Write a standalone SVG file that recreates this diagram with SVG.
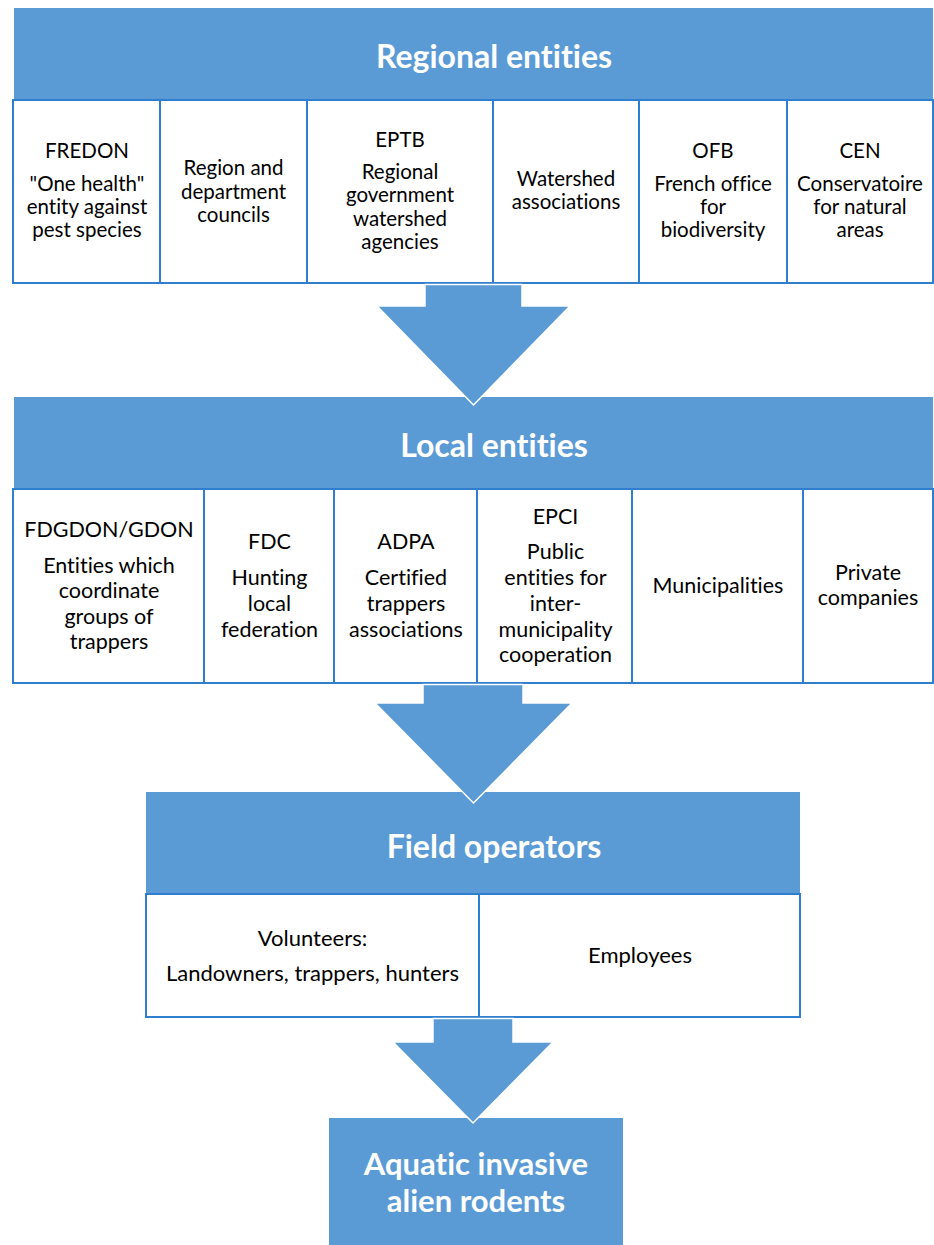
<svg xmlns="http://www.w3.org/2000/svg" width="934" height="1245" viewBox="0 0 934 1245">
<style>
text{font-variant-ligatures:none}
.hdr{fill:#5B9BD5}
.cell{fill:#fff;stroke:#2F7ECF;stroke-width:2}
.ht{font-family:Lato,"Liberation Sans",sans-serif;font-weight:bold;font-size:32px;fill:#fff;text-anchor:middle}
.ht2{font-family:Lato,"Liberation Sans",sans-serif;font-weight:bold;font-size:31px;fill:#fff;text-anchor:middle}
.t1{font-family:Lato,"Liberation Sans",sans-serif;font-size:20.5px;fill:#000;text-anchor:middle}
.t2{font-family:Lato,"Liberation Sans",sans-serif;font-size:21.5px;fill:#000;text-anchor:middle}
.t3{font-family:Lato,"Liberation Sans",sans-serif;font-size:22px;fill:#000;text-anchor:middle}
.arr{fill:#5B9BD5;stroke:#fff;stroke-width:1.5;stroke-linejoin:miter}
</style>
<rect width="934" height="1245" fill="#fff"/>

<g id="regional-entities">
<rect class="hdr" x="14" y="8" width="919" height="92"/>
<text class="ht" x="494" y="68">Regional entities</text>
</g>
<g id="fredon">
<rect class="cell" x="13" y="100" width="147" height="183"/>
<text class="t1"><tspan x="87" y="158">FREDON</tspan><tspan x="87" y="191">"One health"</tspan><tspan x="87" y="214">entity against</tspan><tspan x="87" y="237">pest species</tspan></text>
</g>
<g id="region-councils">
<rect class="cell" x="160" y="100" width="147" height="183"/>
<text class="t1"><tspan x="233.5" y="175">Region and</tspan><tspan x="233.5" y="199">department</tspan><tspan x="233.5" y="222">councils</tspan></text>
</g>
<g id="eptb">
<rect class="cell" x="307" y="100" width="186" height="183"/>
<text class="t1"><tspan x="400" y="147">EPTB</tspan><tspan x="400" y="179">Regional</tspan><tspan x="400" y="202">government</tspan><tspan x="400" y="226">watershed</tspan><tspan x="400" y="249">agencies</tspan></text>
</g>
<g id="watershed-associations">
<rect class="cell" x="493" y="100" width="146" height="183"/>
<text class="t1"><tspan x="566" y="186">Watershed</tspan><tspan x="566" y="209">associations</tspan></text>
</g>
<g id="ofb">
<rect class="cell" x="639" y="100" width="148" height="183"/>
<text class="t1"><tspan x="713" y="158">OFB</tspan><tspan x="713" y="191">French office</tspan><tspan x="713" y="214">for</tspan><tspan x="713" y="237">biodiversity</tspan></text>
</g>
<g id="cen">
<rect class="cell" x="787" y="100" width="146" height="183"/>
<text class="t1"><tspan x="860" y="158">CEN</tspan><tspan x="860" y="191">Conservatoire</tspan><tspan x="860" y="214">for natural</tspan><tspan x="860" y="237">areas</tspan></text>
</g>

<g id="local-entities">
<rect class="hdr" x="14" y="397" width="919" height="92"/>
<text class="ht" x="494" y="457">Local entities</text>
</g>
<g id="fdgdon">
<rect class="cell" x="13" y="489" width="191" height="194"/>
<text class="t2"><tspan x="109" y="537">FDGDON/GDON</tspan><tspan x="109" y="573">Entities which</tspan><tspan x="109" y="598">coordinate</tspan><tspan x="109" y="624">groups of</tspan><tspan x="109" y="649">trappers</tspan></text>
</g>
<g id="fdc">
<rect class="cell" x="204" y="489" width="130" height="194"/>
<text class="t2"><tspan x="269.5" y="549">FDC</tspan><tspan x="269.5" y="585">Hunting</tspan><tspan x="269.5" y="611">local</tspan><tspan x="269.5" y="637">federation</tspan></text>
</g>
<g id="adpa">
<rect class="cell" x="334" y="489" width="143" height="194"/>
<text class="t2"><tspan x="406" y="549">ADPA</tspan><tspan x="406" y="585">Certified</tspan><tspan x="406" y="611">trappers</tspan><tspan x="406" y="637">associations</tspan></text>
</g>
<g id="epci">
<rect class="cell" x="477" y="489" width="155" height="194"/>
<text class="t2"><tspan x="555.5" y="524">EPCI</tspan><tspan x="555.5" y="559">Public</tspan><tspan x="555.5" y="585">entities for</tspan><tspan x="555.5" y="611">inter-</tspan><tspan x="555.5" y="637">municipality</tspan><tspan x="555.5" y="662">cooperation</tspan></text>
</g>
<g id="municipalities">
<rect class="cell" x="632" y="489" width="171" height="194"/>
<text class="t2" x="718" y="593">Municipalities</text>
</g>
<g id="private-companies">
<rect class="cell" x="803" y="489" width="130" height="194"/>
<text class="t2"><tspan x="868" y="580">Private</tspan><tspan x="868" y="605">companies</tspan></text>
</g>

<g id="field-operators">
<rect class="hdr" x="146" y="792" width="654" height="102"/>
<text class="ht" x="494" y="858">Field operators</text>
</g>
<g id="volunteers">
<rect class="cell" x="146" y="894" width="333" height="123"/>
<text class="t3"><tspan x="312.5" y="946">Volunteers:</tspan><tspan x="312.5" y="981">Landowners, trappers, hunters</tspan></text>
</g>
<g id="employees">
<rect class="cell" x="479" y="894" width="321" height="123"/>
<text class="t3" x="640" y="963">Employees</text>
</g>

<g id="rodents">
<rect class="hdr" x="329" y="1118" width="294" height="140"/>
<text class="ht2"><tspan x="476" y="1175">Aquatic invasive</tspan><tspan x="476" y="1212">alien rodents</tspan></text>
</g>

<g id="connectors">
<path class="arr" d="M425,284.5 H522 V306 H570 L473.5,405 L377,306 H425 Z"/>
<path class="arr" d="M423,684.5 H523 V703 H572 L473.5,803 L375,703 H423 Z"/>
<path class="arr" d="M433,1018.5 H513 V1042 H553 L473,1123 L393,1042 H433 Z"/>
</g>
</svg>
